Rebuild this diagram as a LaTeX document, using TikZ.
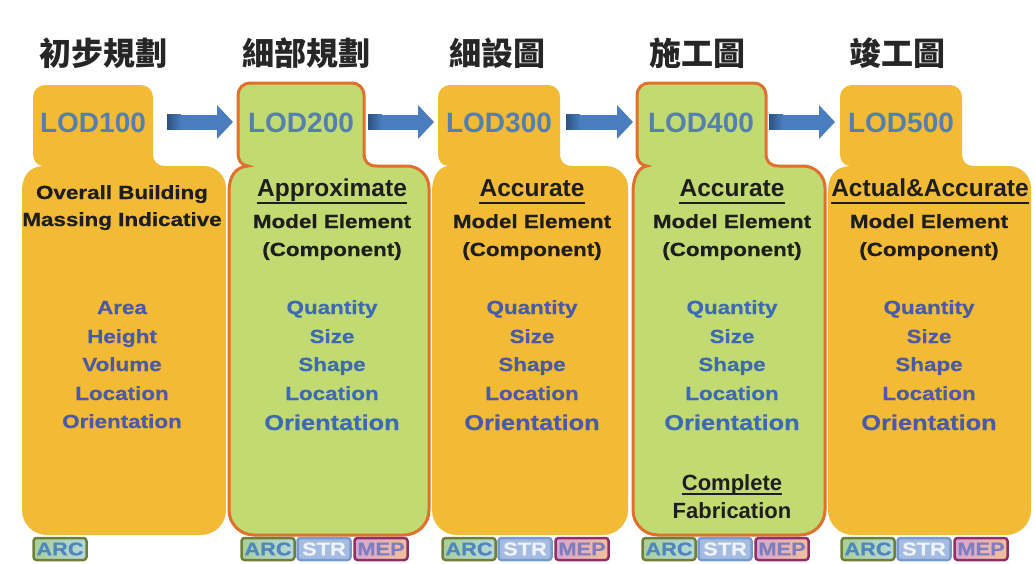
\documentclass[tikz,border=0pt]{standalone}
\usepackage{fontspec}
\setmainfont{Liberation Sans}
\newfontfamily\widefont{Liberation Sans}[FakeStretch=1.18,FakeBold=0.6]
\newfontfamily\cjk{Noto Sans CJK TC}
\usetikzlibrary{arrows.meta}
\definecolor{lodorange}{HTML}{F3BA35}
\definecolor{lodgreen}{HTML}{C2DA72}
\definecolor{lodborder}{HTML}{E0702C}
\definecolor{lodtext}{HTML}{5580AE}
\definecolor{itemorange}{HTML}{4A5AA6}
\definecolor{itemgreen}{HTML}{3E6AB4}
\definecolor{hdrtext}{HTML}{1E1E1E}
\definecolor{arrowblue}{HTML}{4A7DBF}
\definecolor{arrowdark}{HTML}{2E527F}
\definecolor{arcborder}{HTML}{6F7F36}
\definecolor{arcfillA}{HTML}{A8CF9A}
\definecolor{arcfillB}{HTML}{B5D8D8}
\definecolor{arctext}{HTML}{4F86C0}
\definecolor{strborder}{HTML}{7A9ACB}
\definecolor{strfill}{HTML}{A4BCE2}
\definecolor{strtext}{HTML}{EEF3FA}
\definecolor{mepborder}{HTML}{8E2F6A}
\definecolor{mepfillA}{HTML}{D6A7CE}
\definecolor{mepfillB}{HTML}{F2C09A}
\definecolor{meptext}{HTML}{7F7CC0}
% #1 tab left, #2 tab right, #3 body left, #4 body right, #5 tab top, #6 style
\newcommand{\lodshape}[6]{%
 \filldraw[#6] (#1,{-(#5+12)}) arc[start angle=180,end angle=90,radius=12pt]
 -- ({#2-12},-#5) arc[start angle=90,end angle=0,radius=12pt] -- (#2,-153)
 .. controls (#2,-162) and ({#2+4},-166) .. ({#2+13},-166)
 -- ({#4-22},-166) arc[start angle=90,end angle=0,radius=22pt] -- (#4,-510)
 arc[start angle=0,end angle=-90,radius=25pt] -- ({#3+25},-535)
 arc[start angle=270,end angle=180,radius=25pt] -- (#3,-192)
 .. controls (#3,-177) and ({#3+6},-167) .. ({#1+10},-166)
 .. controls ({#1+3},-165) and (#1,-161) .. (#1,-152) -- cycle;}
\begin{document}
\begin{tikzpicture}[x=1pt,y=1pt,
  title/.style={font=\cjk\bfseries\fontsize{32}{32}\selectfont, text=black!85, anchor=base, inner sep=0},
  lod/.style={font=\bfseries\fontsize{28}{28}\selectfont, text=lodtext, anchor=base, inner sep=0},
  hdr/.style={font=\bfseries\fontsize{24.5}{24.5}\selectfont, text=hdrtext, anchor=base, inner sep=0},
  sub/.style={font=\widefont\bfseries\fontsize{19}{19}\selectfont, text=hdrtext, anchor=base, inner sep=0},
  item/.style={font=\widefont\bfseries\fontsize{19}{19}\selectfont, anchor=base, inner sep=0},
  bigitem/.style={font=\widefont\bfseries\fontsize{21.5}{21.5}\selectfont, anchor=base, inner sep=0},
  fab/.style={font=\bfseries\fontsize{22}{22}\selectfont, text=hdrtext, anchor=base, inner sep=0},
  uline/.style={line width=2pt, draw=hdrtext},
  tag/.style={rounded corners=3pt, line width=2.5pt, minimum width=53pt, minimum height=22pt, inner sep=0,
    font=\widefont\bfseries\fontsize{18.5}{18.5}\selectfont},
  arctag/.style={tag, draw=arcborder, left color=arcfillA, right color=arcfillB, text=arctext},
  strtag/.style={tag, draw=strborder, fill=strfill, text=strtext},
  meptag/.style={tag, draw=mepborder, left color=mepfillA, right color=mepfillB, text=meptext},
  flow/.style={draw=arrowblue, line width=15pt, -{Triangle[length=16pt,width=33pt]}}
]
\useasboundingbox[fill=white] (0,0) rectangle (1035,-563);

% column shapes
\lodshape{33}{153}{22}{226}{85}{fill=lodorange, draw=none}
\lodshape{438}{560}{432}{628}{85}{fill=lodorange, draw=none}
\lodshape{840}{962}{828}{1031}{85}{fill=lodorange, draw=none}
\lodshape{238}{364}{229}{429}{83}{fill=lodgreen, draw=lodborder, line width=3pt}
\lodshape{637}{766}{633}{825}{83}{fill=lodgreen, draw=lodborder, line width=3pt}

% titles
\node[title] (t1) at (103,-65) {初步規劃};
\node[title] (t2) at (306,-65) {細部規劃};
\node[title] (t3) at (497,-65) {細設圖};
\node[title] (t4) at (697,-65) {施工圖};
\node[title] (t5) at (897,-65) {竣工圖};

% LOD labels
\node[lod] (l1) at (93,-132) {LOD100};
\node[lod] (l2) at (301,-132) {LOD200};
\node[lod] (l3) at (499,-132) {LOD300};
\node[lod] (l4) at (701,-132) {LOD400};
\node[lod] (l5) at (901,-132) {LOD500};

% arrows
\coordinate (a1s) at (167,-122); \coordinate (a1e) at (233,-122);
\coordinate (a2s) at (368,-122); \coordinate (a2e) at (434,-122);
\coordinate (a3s) at (566,-122); \coordinate (a3e) at (633,-122);
\coordinate (a4s) at (769,-122); \coordinate (a4e) at (835,-122);
\foreach \i in {1,2,3,4}{
  \draw[flow] (a\i s) -- (a\i e);
  \shade[left color=arrowdark, right color=arrowblue] (a\i s) ++(0,-7.5) rectangle ++(14,15);
}

% column 1
\node[sub] (c1a) at (122,-199) {Overall Building};
\node[sub] (c1b) at (122,-226) {Massing Indicative};
\node[item, text=itemorange] (c1i1) at (122,-314) {Area};
\node[item, text=itemorange] (c1i2) at (122,-343) {Height};
\node[item, text=itemorange] (c1i3) at (122,-371) {Volume};
\node[item, text=itemorange] (c1i4) at (122,-400) {Location};
\node[item, text=itemorange] (c1i5) at (122,-428) {Orientation};

% headers
\node[hdr] (h2) at (332,-196) {Approximate};
\node[hdr] (h3) at (532,-196) {Accurate};
\node[hdr] (h4) at (732,-196) {Accurate};
\node[hdr] (h5) at (930,-196) {Actual\&Accurate};
\foreach \c in {2,3,4,5}{
  \draw[uline] ([yshift=-7pt]h\c.base west) -- ([yshift=-7pt]h\c.base east);
}

% columns 2-5
\foreach \c/\x/\col in {2/332/itemgreen, 3/532/itemorange, 4/732/itemgreen, 5/929/itemorange}{
  \node[sub] (c\c a) at (\x,-228) {Model Element};
  \node[sub] (c\c b) at (\x,-256) {(Component)};
  \node[item, text=\col] (c\c i1) at (\x,-314) {Quantity};
  \node[item, text=\col] (c\c i2) at (\x,-343) {Size};
  \node[item, text=\col] (c\c i3) at (\x,-371) {Shape};
  \node[item, text=\col] (c\c i4) at (\x,-400) {Location};
  \node[bigitem, text=\col] (c\c i5) at (\x,-430) {Orientation};
}

% column 4 extra
\node[fab] (f1) at (732,-490) {Complete};
\node[fab] (f2) at (732,-518) {Fabrication};
\draw[uline] ([yshift=-4pt]f1.base west) -- ([yshift=-4pt]f1.base east);

% tags
\node[arctag] (g1a) at (60,-549) {ARC};
\foreach \c/\x in {2/268, 3/469, 4/669, 5/868}{
  \node[arctag] (g\c a) at (\x,-549) {ARC};
  \node[strtag] (g\c s) at ({\x+56},-549) {STR};
  \node[meptag] (g\c m) at ({\x+113},-549) {MEP};
}
\end{tikzpicture}
\end{document}
